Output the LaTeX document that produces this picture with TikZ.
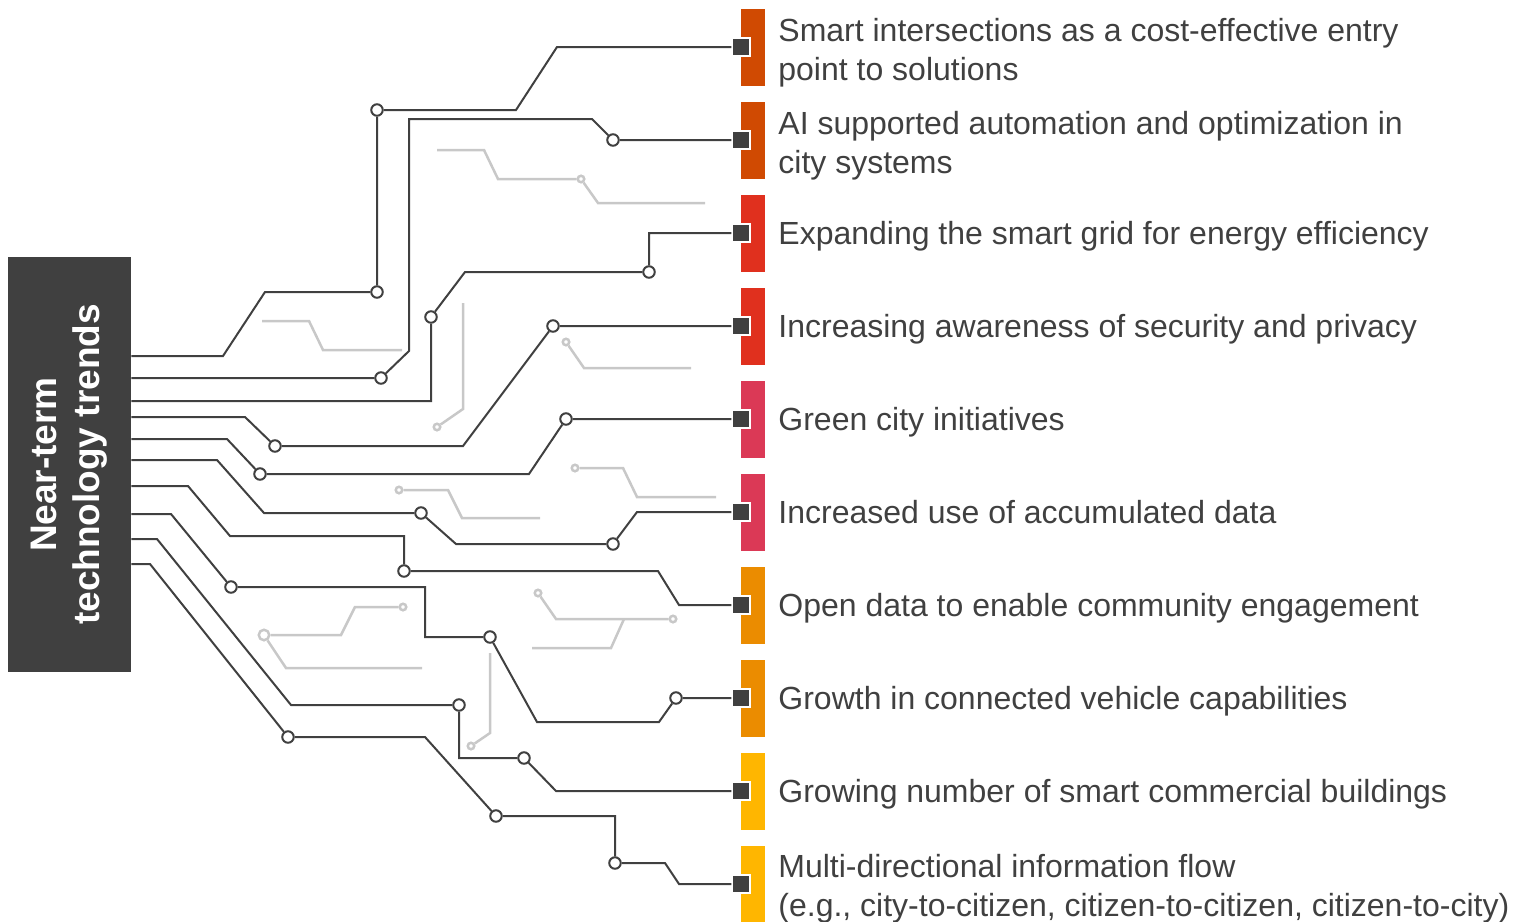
\documentclass[tikz,border=0pt]{standalone}
\usepackage{fontspec}
\setmainfont{Liberation Sans}
\definecolor{wiregray}{HTML}{404040}
\definecolor{ghostgray}{HTML}{C8C8C8}
\definecolor{burnt}{HTML}{D04A02}
\definecolor{signalred}{HTML}{E0301E}
\definecolor{rose}{HTML}{DB3956}
\definecolor{amber}{HTML}{EB8C00}
\definecolor{sun}{HTML}{FFB600}
\begin{document}
\begin{tikzpicture}[x=0.5pt, y=-0.5pt,
    wire/.style={wiregray, line width=1pt},
    ghost/.style={ghostgray, line width=1.25pt},
    via/.style={circle, draw=wiregray, line width=1pt, fill=white, inner sep=0pt, minimum size=5.75pt},
    ghostvia/.style={circle, draw=ghostgray, line width=1.25pt, fill=white, inner sep=0pt, minimum size=3.25pt},
    pad/.style={draw=white, line width=0.75pt, fill=wiregray, inner sep=0pt, minimum size=9pt},
    trendbar/.style={fill=#1, inner sep=0pt, minimum width=12pt, minimum height=38.5pt, anchor=west},
    itemtext/.style={text=wiregray, inner sep=0pt, anchor=base west, align=left, font=\fontsize{16}{19.5}\selectfont}]
  \useasboundingbox (0,0) rectangle (1525,921);
  \foreach \col [count=\i] in {burnt,burnt,signalred,signalred,rose,rose,amber,amber,sun,sun}
    \node[trendbar=\col] (bar\i) at (741,{47+93*(\i-1)}) {};
  \foreach \i in {1,...,10}
    \node[pad] (sq\i) at (bar\i.west) {};
  \node[fill=wiregray, minimum width=61.5pt, minimum height=207.5pt, inner sep=0pt] (trends) at (69.5,464.5) {};
  \node[rotate=90, text=white, align=center, font=\bfseries\fontsize{18.5}{21.5}\selectfont] (trendslabel) at (trends) {Near-term\\technology trends};
  \node[via] (a1) at (377,292) {};
  \node[via] (a2) at (377,110) {};
  \node[via] (b1) at (381,378) {};
  \node[via] (b2) at (613,140) {};
  \node[via] (c1) at (431,317) {};
  \node[via] (c2) at (649,272) {};
  \node[via] (d1) at (275,446) {};
  \node[via] (d2) at (553,326) {};
  \node[via] (e1) at (260,474) {};
  \node[via] (e2) at (566,419) {};
  \node[via] (f1) at (421,513) {};
  \node[via] (f2) at (613,544) {};
  \node[via] (g1) at (404,571) {};
  \node[via] (h1) at (231,587) {};
  \node[via] (h2) at (490,637) {};
  \node[via] (h3) at (676,698) {};
  \node[via] (i1) at (459,705) {};
  \node[via] (i2) at (524,758) {};
  \node[via] (j1) at (288,737) {};
  \node[via] (j2) at (496,816) {};
  \node[via] (j3) at (615,863) {};
  \node[ghostvia] (ga) at (581,179) {};
  \node[ghostvia] (gb) at (437,427) {};
  \node[ghostvia] (gc) at (566,342) {};
  \node[ghostvia] (gd) at (575,468) {};
  \node[ghostvia] (ge) at (399,490) {};
  \node[ghostvia] (gf) at (538,593) {};
  \node[ghostvia] (gg) at (673,619) {};
  \node[ghostvia] (gh) at (403,607) {};
  \node[ghostvia, minimum size=5.25pt] (gi) at (264,635) {};
  \node[ghostvia] (gj) at (471,746) {};
  \draw[ghost] (262,321) -- (309,321) -- (323,350) -- (402,350);
  \draw[ghost] (437,150) -- (484,150) -- (498,179) -- (ga) -- (598,203) -- (705,203);
  \draw[ghost] (463,303) -- (463,409) -- (gb);
  \draw[ghost] (gc) -- (584,368) -- (691,368);
  \draw[ghost] (gd) -- (623,468) -- (637,497) -- (716,497);
  \draw[ghost] (ge) -- (448,490) -- (462,518) -- (540,518);
  \draw[ghost] (gf) -- (556,619) -- (gg);
  \draw[ghost] (624,619) -- (611,648) -- (532,648);
  \draw[ghost] (gh) -- (355,607) -- (341,635) -- (gi) -- (286,668) -- (422,668);
  \draw[ghost] (490,653) -- (490,733) -- (gj);
  \draw[wire] (trends.east |- 0,356) -- (223,356) -- (265,292) -- (a1) -- (a2) -- (516,110) -- (557,47) -- (sq1);
  \draw[wire] (trends.east |- 0,378) -- (b1) -- (409,351) -- (409,119) -- (592,119) -- (b2) -- (sq2);
  \draw[wire] (trends.east |- 0,401) -- (431,401) -- (c1) -- (465,272) -- (c2) -- (649,233) -- (sq3);
  \draw[wire] (trends.east |- 0,417) -- (245,417) -- (d1) -- (463,446) -- (d2) -- (sq4);
  \draw[wire] (trends.east |- 0,439) -- (227,439) -- (e1) -- (529,474) -- (e2) -- (sq5);
  \draw[wire] (trends.east |- 0,460) -- (217,460) -- (264,513) -- (f1) -- (456,544) -- (f2) -- (637,512) -- (sq6);
  \draw[wire] (trends.east |- 0,486) -- (188,486) -- (230,536) -- (404,536) -- (g1) -- (658,571) -- (679,605) -- (sq7);
  \draw[wire] (trends.east |- 0,514) -- (171,514) -- (h1) -- (425,587) -- (425,637) -- (h2) -- (537,722) -- (659,722) -- (h3) -- (sq8);
  \draw[wire] (trends.east |- 0,539) -- (157,539) -- (291,705) -- (i1) -- (459,758) -- (i2) -- (556,791) -- (sq9);
  \draw[wire] (trends.east |- 0,564) -- (150,564) -- (j1) -- (425,737) -- (j2) -- (615,816) -- (j3) -- (665,863) -- (679,884) -- (sq10);
  \node[itemtext] (t1) at (778,80.5) {Smart intersections as a cost-effective entry\\point to solutions};
  \node[itemtext] (t2) at (778,173.5) {AI supported automation and optimization in\\city systems};
  \node[itemtext] (t3) at (778,244) {Expanding the smart grid for energy efficiency};
  \node[itemtext] (t4) at (778,337) {Increasing awareness of security and privacy};
  \node[itemtext] (t5) at (778,430) {Green city initiatives};
  \node[itemtext] (t6) at (778,523) {Increased use of accumulated data};
  \node[itemtext] (t7) at (778,616) {Open data to enable community engagement};
  \node[itemtext] (t8) at (778,709) {Growth in connected vehicle capabilities};
  \node[itemtext] (t9) at (778,802) {Growing number of smart commercial buildings};
  \node[itemtext] (t10) at (778,916) {Multi-directional information flow\\(e.g., city-to-citizen, citizen-to-citizen, citizen-to-city)};
\end{tikzpicture}
\end{document}
